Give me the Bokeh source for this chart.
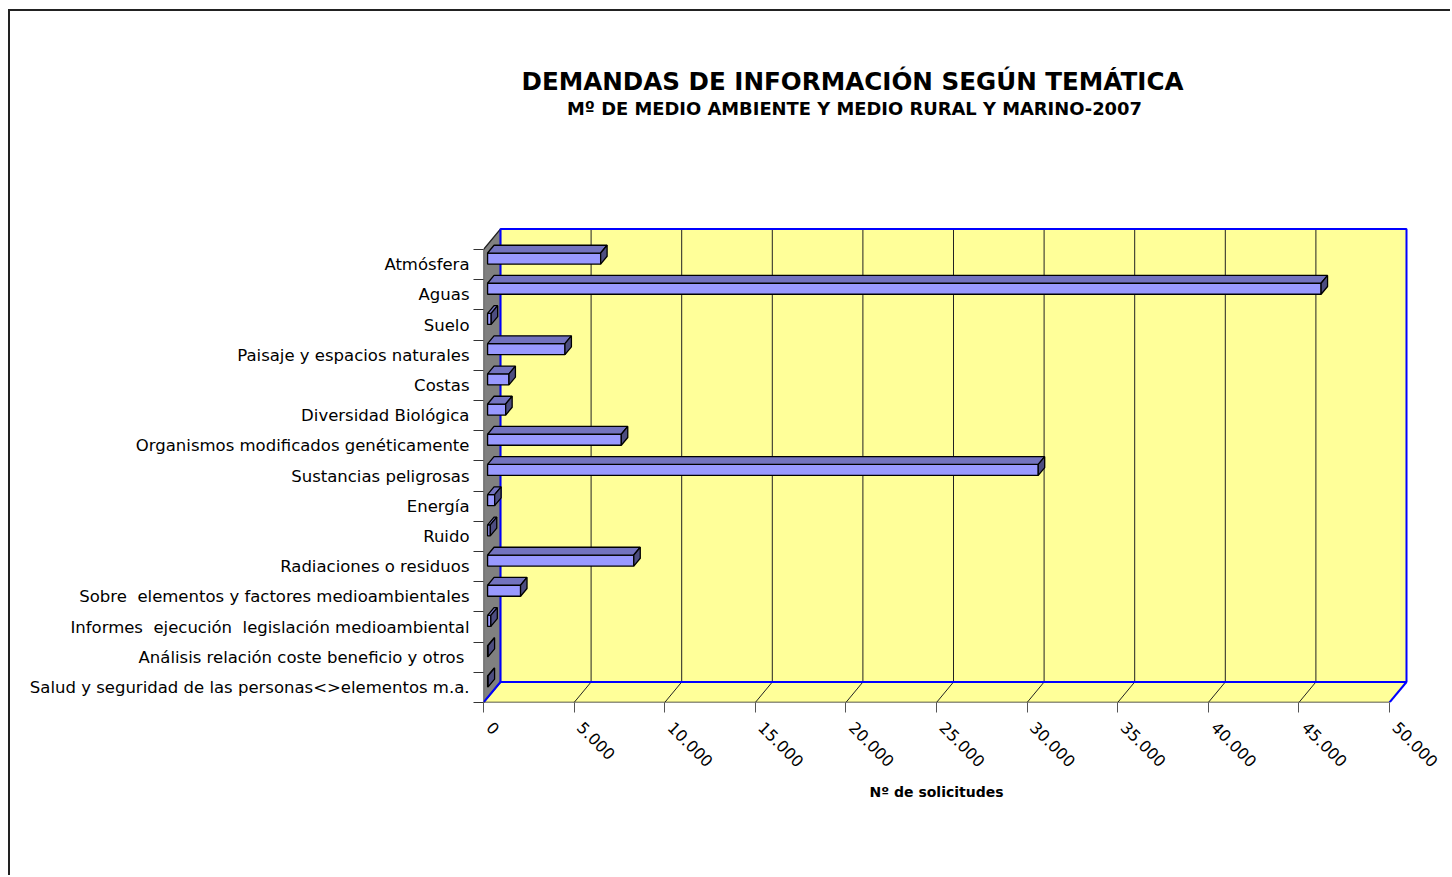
import math
from bokeh.plotting import figure
from bokeh.models import Range1d, LinearAxis, FixedTicker, Title
from bokeh.core.properties import value
from bokeh.embed import file_html
from bokeh.resources import INLINE

# ---------------- data ----------------
categories = [
    "Atmósfera",
    "Aguas",
    "Suelo",
    "Paisaje y espacios naturales",
    "Costas",
    "Diversidad Biológica",
    "Organismos modificados genéticamente",
    "Sustancias peligrosas",
    "Energía",
    "Ruido",
    "Radiaciones o residuos",
    "Sobre \u00a0elementos y factores medioambientales",
    "Informes \u00a0ejecución \u00a0legislación medioambiental",
    "Análisis relación coste beneficio y otros ",
    "Salud y seguridad de las personas<>elementos m.a.",
]
solicitudes = [6240, 46000, 200, 4270, 1180, 1000, 7380, 30390, 390, 150,
               8070, 1820, 180, 30, 30]
x_ticks = [0, 5000, 10000, 15000, 20000, 25000, 30000, 35000, 40000, 45000, 50000]
x_tick_labels = ["0", "5.000", "10.000", "15.000", "20.000", "25.000",
                 "30.000", "35.000", "40.000", "45.000", "50.000"]
title_text = "DEMANDAS DE INFORMACIÓN SEGÚN TEMÁTICA"
subtitle_text = "Mº DE MEDIO AMBIENTE Y MEDIO RURAL Y MARINO-2007"
x_title = "Nº de solicitudes"

# ---------------- layout ----------------
OX, OY = 10, 11                 # page position of the canvas origin
W, H = 1452 - OX, 877 - OY
FRAME_LEFT, FRAME_BOTTOM = 483, 702   # page pixels of the front axes
LEFT_BORDER = FRAME_LEFT - OX
BOTTOM_BORDER = H - (FRAME_BOTTOM - OY)
PX_X = 906 / 50000.0      # pixels per request
PX_Y = 30.2               # pixels per category band
n = len(categories)
x_max = x_ticks[-1]
x_end = (W - LEFT_BORDER) / PX_X
LABEL_SHIFT = 6 / PX_X    # tick labels sit slightly right of their tick (as in Excel)

DX = 17 / PX_X            # 3D depth offset, data units
DY = 20.5 / PX_Y
D1, D2 = 0.24, 0.62       # bar depth span (fractions of depth)
Y0, Y1 = 0.355, 0.72      # bar thickness inside a band

FONT_NAME = "DejaVu Sans"
FONT = value(FONT_NAME)

p = figure(width=W, height=H, output_backend="svg", toolbar_location=None,
           x_axis_location=None, y_axis_location=None,
           x_range=Range1d(0, x_end),
           y_range=Range1d(0, (H - BOTTOM_BORDER) / PX_Y),
           min_border_left=LEFT_BORDER, min_border_bottom=BOTTOM_BORDER,
           min_border_top=0, min_border_right=0,
           background_fill_color="white", border_fill_color="white",
           outline_line_color=None)
p.extra_x_ranges = {"labels": Range1d(-LABEL_SHIFT, x_end - LABEL_SHIFT)}
p.grid.visible = False
p.styles = {"margin-left": "8px", "margin-top": "9px",
            "border-left": "2px solid #222222", "border-top": "2px solid #222222"}

YELLOW = "#FFFF99"
BLUE = "#0000FF"

# back wall
p.quad(left=[DX], right=[x_max + DX], bottom=[DY], top=[n + DY],
       fill_color=YELLOW, line_color=None)
# floor
p.patch([0, x_max, x_max + DX, DX], [0, 0, DY, DY], fill_color=YELLOW, line_color=None)
# left wall
p.patch([0, DX, DX, 0], [0, DY, n + DY, n], fill_color="#808080",
        line_color="#222222", line_width=1.2)

inner = x_ticks[1:-1]
# back wall gridlines
p.segment(x0=[t + DX for t in inner], y0=[DY] * len(inner),
          x1=[t + DX for t in inner], y1=[n + DY] * len(inner),
          line_color="#222222", line_width=1)
# floor gridlines
p.segment(x0=inner, y0=[0] * len(inner), x1=[t + DX for t in inner], y1=[DY] * len(inner),
          line_color="#222222", line_width=1)
# back wall blue frame
p.quad(left=[DX], right=[x_max + DX], bottom=[DY], top=[n + DY],
       fill_color=None, line_color=BLUE, line_width=2)
# floor blue diagonals
p.segment(x0=[0, x_max], y0=[0, 0], x1=[DX, x_max + DX], y1=[DY, DY],
          line_color=BLUE, line_width=2)
# front edge
p.segment(x0=[0], y0=[0], x1=[x_max], y1=[0], line_color="#222222", line_width=1.5)

# bars
fx, fy, tx, ty, ex, ey = [], [], [], [], [], []
sx1, sy1, sx2, sy2 = D1 * DX, D1 * DY, D2 * DX, D2 * DY
for i, v in enumerate(solicitudes):
    bb = n - i - 1
    y0, y1 = bb + Y0, bb + Y1
    fx.append([sx1, v + sx1, v + sx1, sx1])
    fy.append([y0 + sy1, y0 + sy1, y1 + sy1, y1 + sy1])
    tx.append([sx1, v + sx1, v + sx2, sx2])
    ty.append([y1 + sy1, y1 + sy1, y1 + sy2, y1 + sy2])
    ex.append([v + sx1, v + sx2, v + sx2, v + sx1])
    ey.append([y0 + sy1, y0 + sy2, y1 + sy2, y1 + sy1])
p.patches(fx, fy, fill_color="#9999FF", line_color="black", line_width=1.3)
p.patches(tx, ty, fill_color="#7373BF", line_color="black", line_width=1.3)
p.patches(ex, ey, fill_color="#4D4D80", line_color="black", line_width=1.3)

# titles (positions in page pixels converted to data units)
def dx(px):
    return (px - FRAME_LEFT) / PX_X

def dy(py):
    return (FRAME_BOTTOM - py) / PX_Y

p.text(x=[dx(852)], y=[dy(81)], text=[title_text],
       text_font=FONT, text_font_style="bold", text_font_size="24.6px",
       text_align="center", text_baseline="middle", text_color="black")
p.text(x=[dx(854)], y=[dy(108)], text=[subtitle_text],
       text_font=FONT, text_font_style="bold", text_font_size="17.9px",
       text_align="center", text_baseline="middle", text_color="black")

# category axis
centers = [n - i - 0.5 for i in range(n)]
yaxis = LinearAxis(ticker=FixedTicker(ticks=centers, minor_ticks=list(range(n + 1))),
                   major_label_overrides={c: lab for c, lab in zip(centers, categories)},
                   axis_line_color=None, major_tick_line_color=None,
                   major_tick_out=10, major_tick_in=0,
                   minor_tick_out=10, minor_tick_in=0, minor_tick_line_color="#333333",
                   major_label_standoff=4, major_label_text_font=FONT_NAME,
                   major_label_text_font_size="16.5px", major_label_text_color="black")
p.add_layout(yaxis, "left")

# value axis: tick marks
xticks_axis = LinearAxis(ticker=FixedTicker(ticks=x_ticks, minor_ticks=[]),
                         axis_line_color=None, major_tick_line_color="#555555",
                         major_tick_out=10, major_tick_in=0, minor_tick_line_color=None,
                         major_label_standoff=0, major_label_text_color=None,
                         major_label_text_font_size="1px")
p.add_layout(xticks_axis, "below")

# value axis: rotated labels
xlabels_axis = LinearAxis(x_range_name="labels",
                          ticker=FixedTicker(ticks=x_ticks, minor_ticks=[]),
                          major_label_overrides={t: lab for t, lab in zip(x_ticks, x_tick_labels)},
                          major_label_orientation=-math.pi / 4,
                          axis_line_color=None, major_tick_line_color=None,
                          major_tick_out=0, major_tick_in=0, minor_tick_line_color=None,
                          major_label_standoff=12, major_label_text_font=FONT_NAME,
                          major_label_text_font_size="16px", major_label_text_color="black")
p.add_layout(xlabels_axis, "below")

p.add_layout(Title(text=x_title, align="left", offset=386, text_font=FONT_NAME,
                   text_font_size="14px", text_font_style="bold", standoff=12,
                   text_color="black"), "below")

open("out.html", "w").write(file_html(p, INLINE))
